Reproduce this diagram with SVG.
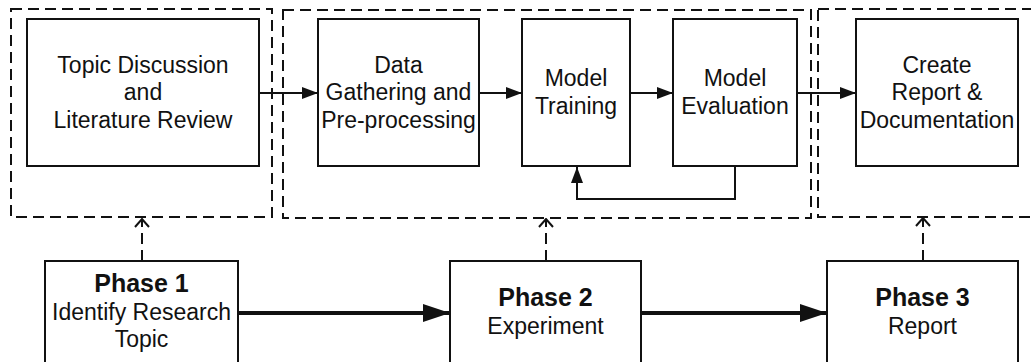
<svg xmlns="http://www.w3.org/2000/svg" width="1031" height="362" viewBox="0 0 1031 362">
<style>
.grp{fill:none;stroke:#111;stroke-width:2;stroke-dasharray:11 6}
.box{fill:#fff;stroke:#111;stroke-width:2}
.t{font-family:"Liberation Sans",Arial,sans-serif;font-size:23px;fill:#111;text-anchor:middle}
.b{font-weight:bold;font-size:25px}
.ln{fill:none;stroke:#111;stroke-width:2}
.thick{fill:none;stroke:#111;stroke-width:4}
.dl{fill:none;stroke:#111;stroke-width:2;stroke-dasharray:11 6}
</style>
<defs>
<marker id="ah" viewBox="0 0 16 12" refX="16" refY="6" markerWidth="16" markerHeight="12" markerUnits="userSpaceOnUse" orient="auto"><path d="M0,0L16,6L0,12Z" fill="#111"/></marker>
<marker id="ahb" viewBox="0 0 27 18" refX="27" refY="9" markerWidth="27" markerHeight="18" markerUnits="userSpaceOnUse" orient="auto"><path d="M0,0L27,9L0,18Z" fill="#111"/></marker>
<marker id="aho" viewBox="0 0 10 16" refX="9" refY="8" markerWidth="10" markerHeight="16" markerUnits="userSpaceOnUse" orient="auto"><path d="M1,1L9,8L1,15" fill="none" stroke="#111" stroke-width="2"/></marker>
</defs>
<g id="groups">
<rect id="g1" class="grp" x="11" y="9" width="261" height="208"/>
<rect id="g2" class="grp" x="283" y="10" width="528" height="208"/>
<rect id="g3" class="grp" x="818" y="9" width="240" height="208"/>
</g>
<g id="n1"><rect class="box" x="27" y="19" width="232" height="147"/>
<text class="t" x="143" y="73">Topic Discussion</text><text class="t" x="143" y="100">and</text><text class="t" x="143" y="128">Literature Review</text></g>
<g id="n2"><rect class="box" x="318" y="19" width="161" height="147"/>
<text class="t" x="398.5" y="73">Data</text><text class="t" x="398.5" y="100">Gathering and</text><text class="t" x="398.5" y="128">Pre-processing</text></g>
<g id="n3"><rect class="box" x="522" y="19" width="108" height="147"/>
<text class="t" x="576" y="86">Model</text><text class="t" x="576" y="113.5">Training</text></g>
<g id="n4"><rect class="box" x="673" y="19" width="124" height="147"/>
<text class="t" x="735" y="86">Model</text><text class="t" x="735" y="113.5">Evaluation</text></g>
<g id="n5"><rect class="box" x="856" y="19" width="162" height="147"/>
<text class="t" x="937" y="73">Create</text><text class="t" x="937" y="100">Report &amp;</text><text class="t" x="937" y="128">Documentation</text></g>
<g id="p1"><rect class="box" x="45" y="261" width="193" height="120"/>
<text class="t b" x="141.5" y="292">Phase 1</text><text class="t" x="141.5" y="320">Identify Research</text><text class="t" x="141.5" y="347">Topic</text></g>
<g id="p2"><rect class="box" x="450" y="261" width="191" height="120"/>
<text class="t b" x="545.5" y="306">Phase 2</text><text class="t" x="545.5" y="334">Experiment</text></g>
<g id="p3"><rect class="box" x="827" y="261" width="191" height="120"/>
<text class="t b" x="922.5" y="306">Phase 3</text><text class="t" x="922.5" y="334">Report</text></g>
<g id="connectors">
<line class="ln" x1="259" y1="93" x2="318" y2="93" marker-end="url(#ah)"/>
<line class="ln" x1="479" y1="93" x2="522" y2="93" marker-end="url(#ah)"/>
<line class="ln" x1="630" y1="93" x2="673" y2="93" marker-end="url(#ah)"/>
<line class="ln" x1="797" y1="93" x2="856" y2="93" marker-end="url(#ah)"/>
<polyline class="ln" points="735,166 735,199 577,199 577,167" marker-end="url(#ah)"/>
<line class="thick" x1="238" y1="313" x2="450" y2="313" marker-end="url(#ahb)"/>
<line class="thick" x1="641" y1="313" x2="827" y2="313" marker-end="url(#ahb)"/>
<line class="dl" x1="142" y1="261" x2="142" y2="219" marker-end="url(#aho)"/>
<line class="dl" x1="546" y1="261" x2="546" y2="219" marker-end="url(#aho)"/>
<line class="dl" x1="923" y1="261" x2="923" y2="218" marker-end="url(#aho)"/>
</g>
</svg>
